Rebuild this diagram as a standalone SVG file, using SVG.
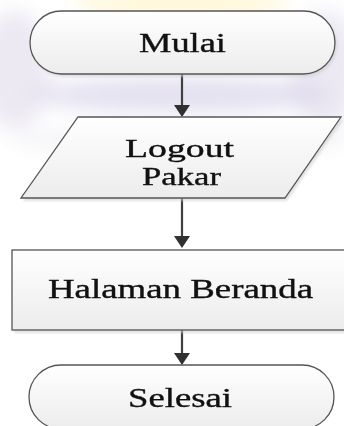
<svg xmlns="http://www.w3.org/2000/svg" width="344" height="426" viewBox="0 0 344 426">
<defs>
<linearGradient id="fillg" x1="0" y1="0" x2="0" y2="1">
<stop offset="0" stop-color="#ffffff"/>
<stop offset="1" stop-color="#ececec"/>
</linearGradient>
<filter id="blur" x="-50%" y="-50%" width="200%" height="200%"><feGaussianBlur stdDeviation="10"/></filter>
<filter id="sh" x="-10%" y="-10%" width="120%" height="130%"><feGaussianBlur stdDeviation="1.2"/></filter>
</defs>
<style>
.shape{fill:url(#fillg);stroke:#555555;stroke-width:1.3}
.shadow{fill:#cfcfcf;opacity:0.6;filter:url(#sh)}
.lbl{font-family:"Liberation Serif","Times New Roman",serif;font-size:27px;fill:#111111;stroke:#111111;stroke-width:0.35;text-anchor:middle}
.small{font-size:25px}
.conn{stroke:#404040;stroke-width:2.2;fill:none}
.head{fill:#303030}
</style>
<rect width="344" height="426" fill="#ffffff"/>
<g id="background" filter="url(#blur)">
<ellipse cx="182" cy="4" rx="110" ry="14" fill="#fff3c4" opacity="0.7"/>
<ellipse cx="15" cy="70" rx="35" ry="60" fill="#dcd7ea" opacity="0.55"/>
<ellipse cx="325" cy="70" rx="35" ry="60" fill="#dcd7ea" opacity="0.55"/>
<ellipse cx="182" cy="95" rx="150" ry="18" fill="#d9d4ea" opacity="0.7"/>
<ellipse cx="182" cy="140" rx="170" ry="12" fill="#e6e3ee" opacity="0.5"/>
</g>
<g id="connectors">
<line class="conn" x1="182" y1="74" x2="182" y2="107"/>
<polygon class="head" points="174,105 190,105 182,117"/>
<line class="conn" x1="182" y1="198" x2="182" y2="238"/>
<polygon class="head" points="174,236 190,236 182,248"/>
<line class="conn" x1="182" y1="330" x2="182" y2="355"/>
<polygon class="head" points="174,353 190,353 182,365"/>
</g>
<g id="mulai">
<rect class="shadow" x="32" y="14" width="305" height="63" rx="31.5"/>
<rect class="shape" x="30" y="11" width="305" height="63" rx="31.5"/>
<text class="lbl" x="182.5" y="52" textLength="87" lengthAdjust="spacingAndGlyphs">Mulai</text>
</g>
<g id="logout">
<polygon class="shadow" points="80,120 343,120 287,201 23,201"/>
<polygon class="shape" points="78,117 341,117 285,198 21,198"/>
<text class="lbl small" x="179.5" y="157" textLength="109" lengthAdjust="spacingAndGlyphs">Logout</text>
<text class="lbl small" x="181.5" y="185" textLength="79" lengthAdjust="spacingAndGlyphs">Pakar</text>
</g>
<g id="beranda">
<rect class="shadow" x="14" y="253" width="340" height="80"/>
<rect class="shape" x="12" y="250" width="340" height="80"/>
<text class="lbl" x="180.5" y="298" textLength="265" lengthAdjust="spacingAndGlyphs">Halaman Beranda</text>
</g>
<g id="selesai">
<rect class="shape" x="29" y="365" width="305" height="64" rx="32"/>
<text class="lbl" x="180" y="407" textLength="104" lengthAdjust="spacingAndGlyphs">Selesai</text>
</g>
</svg>
